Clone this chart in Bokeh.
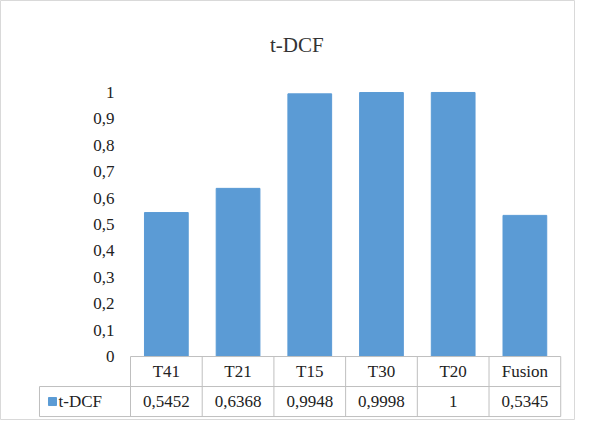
from bokeh.plotting import figure
from bokeh.models import Range1d
from bokeh.core.properties import value
from bokeh.embed import file_html
from bokeh.resources import INLINE

categories = ["T41", "T21", "T15", "T30", "T20", "Fusion"]
tdcf = [0.5452, 0.6368, 0.9948, 0.9998, 1, 0.5345]
cell_labels = ["0,5452", "0,6368", "0,9948", "0,9998", "1", "0,5345"]
y_ticks = [0, 0.1, 0.2, 0.3, 0.4, 0.5, 0.6, 0.7, 0.8, 0.9, 1]
y_tick_labels = ["0", "0,1", "0,2", "0,3", "0,4", "0,5", "0,6", "0,7", "0,8", "0,9", "1"]

SERIF = value("Liberation Serif")
BLUE = "#5b9bd5"
GRID = "#bfbfbf"
row1 = -30 / 264
row2 = -60 / 264
left = -91 / 71.7

p = figure(width=575, height=420, output_backend="svg", toolbar_location=None,
           x_range=Range1d(-1.813, 6.206), y_range=Range1d(-0.2423, 1.3483),
           min_border=0)
p.axis.visible = False
p.grid.visible = False
p.outline_line_color = "#d9d9d9"

xs = [i + 0.5 for i in range(len(categories))]
p.vbar(x=xs, top=tdcf, width=0.61, color=BLUE)

# y tick labels
p.text(x=[-0.223] * len(y_ticks), y=y_ticks, text=y_tick_labels, text_font=SERIF,
       text_font_size="17px", text_align="right", text_baseline="middle", text_color="#222222")

# title
p.text(x=[2.32], y=[1.178], text=["t-DCF"], text_font=SERIF, text_font_size="21px",
       text_align="center", text_baseline="middle", text_color="#333333")

# data table lines
n = len(categories)
p.segment(x0=[0, left, left], y0=[0, row1, row2], x1=[n, n, n], y1=[0, row1, row2],
          line_color=GRID, line_width=1)
p.segment(x0=list(range(n + 1)), y0=[0] * (n + 1), x1=list(range(n + 1)), y1=[row2] * (n + 1),
          line_color=GRID, line_width=1)
p.segment(x0=[left], y0=[row1], x1=[left], y1=[row2], line_color=GRID, line_width=1)

# table text
p.text(x=xs, y=[row1 / 2] * n, text=categories, text_font=SERIF, text_font_size="17px",
       text_align="center", text_baseline="middle", text_color="#222222")
p.text(x=xs, y=[(row1 + row2) / 2] * n, text=cell_labels, text_font=SERIF, text_font_size="17px",
       text_align="center", text_baseline="middle", text_color="#222222")

# legend key
p.scatter(x=[(60 - 138) / 71.7], y=[(row1 + row2) / 2], marker="square", size=8, color=BLUE)
p.text(x=[(66 - 138) / 71.7], y=[(row1 + row2) / 2], text=["t-DCF"], text_font=SERIF,
       text_font_size="17px", text_align="left", text_baseline="middle", text_color="#222222")

open("out.html", "w").write(file_html(p, INLINE))
